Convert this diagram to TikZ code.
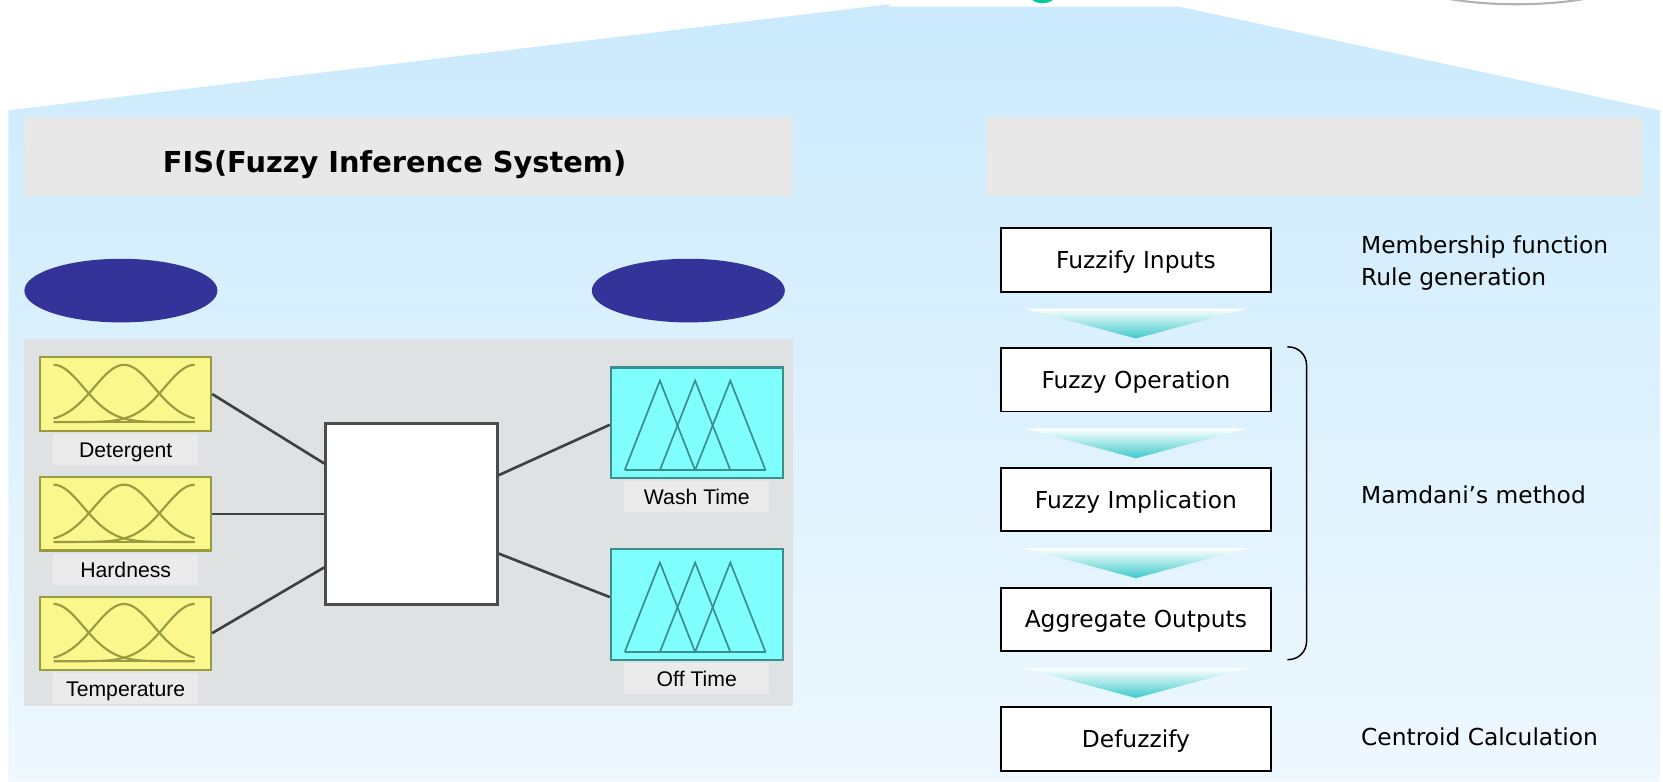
\documentclass[tikz,border=0pt]{standalone}
\usepackage{fontspec}
\setmainfont{DejaVu Sans}
\newfontfamily\lblfont{Liberation Sans}
\usetikzlibrary{positioning,shapes.geometric}
\definecolor{roofblue}{HTML}{CBEAFD}
\definecolor{roofpale}{HTML}{EEF8FE}
\definecolor{barfill}{HTML}{E8E8E8}
\definecolor{panelgray}{HTML}{DFE2E2}
\definecolor{navy}{HTML}{333399}
\definecolor{mfyellow}{HTML}{FAF78C}
\definecolor{mfolive}{HTML}{9A9A40}
\definecolor{mfcyan}{HTML}{80FFFF}
\definecolor{mfteal}{HTML}{3A8E8E}
\definecolor{lblgray}{HTML}{EBEBEB}
\definecolor{arrowteal}{HTML}{3CCACA}
\definecolor{dotgreen}{HTML}{00CC99}
\begin{document}
\begin{tikzpicture}[x=0.5pt,y=-0.5pt,line join=miter,font=\fontsize{11}{15}\selectfont]
	\tikzset{inbox/.style={draw=mfolive,fill=mfyellow,line width=1pt,minimum width=80.5pt,minimum height=34.5pt,inner sep=0pt},
		outbox/.style={draw=mfteal,fill=mfcyan,line width=1pt,minimum width=81pt,minimum height=52pt,inner sep=0pt},
		lblbox/.style={fill=lblgray,minimum width=68.5pt,minimum height=14.5pt,inner sep=0pt,
			text height=7.2pt,text depth=0pt,font=\lblfont\fontsize{10}{12}\selectfont},
		stepbox/.style={draw=black,fill=white,line width=0.9pt,minimum width=127pt,minimum height=30pt,
			inner sep=0pt,text height=8pt,text depth=0pt},
		wire/.style={draw=black!75,line width=1.25pt},
		navyblob/.style={ellipse,fill=navy,minimum width=91pt,minimum height=30pt,inner sep=0pt},
		note/.style={anchor=base west,inner sep=0pt}}
	\useasboundingbox (0,0) rectangle (1568,737);
	\clip (0,0) rectangle (1568,737);
	% roof and body
	\fill[dotgreen] (983,-4) ellipse [x radius=12, y radius=7];
	\draw[gray!60,line width=1pt] (1430,-20) ellipse [x radius=104, y radius=24];
	\shade[top color=roofblue,bottom color=roofpale] (8,737)--(8,104)--(838,4)--(838,6.3)--(1112,6.3)--(1565,104)--(1565,737)--cycle;
	\fill[barfill] (24,110) rectangle (748,185);
	\fill[barfill] (930,110) rectangle (1548,185);
	\node[anchor=base,font=\bfseries\fontsize{13.6}{16}\selectfont] (fistitle) at (372,163) {FIS(Fuzzy Inference System)};
	\node[navyblob] (inblob) at (114,274) {};
	\node[navyblob] (outblob) at (649,274) {};
	\fill[panelgray] (23,320) rectangle (748,666);
	% inputs
	\foreach \nm/\txt/\yy in {det/Detergent/371.5,hard/Hardness/484.5,temp/Temperature/597}{
			\node[inbox] (\nm) at (118.5,\yy) {};
			\node[lblbox,below=1pt of \nm] (\nm lbl) {\txt};
			\begin{scope}[shift={(\nm.south west)},xshift=6.75pt,yshift=4.5pt,x=66.5pt,y=27pt]
				\draw[mfolive,line width=1pt] (0,0)--(1,0);
				\foreach \c in {0,.5,1}
				\draw[mfolive,line width=1pt,smooth,samples=50,domain=0:1] plot (\x,{exp(0-((\x-\c)^2)/0.09)});
			\end{scope}}
	% outputs
	\foreach \nm/\txt/\yy in {wash/Wash Time/398.5,off/Off Time/570}{
			\node[outbox] (\nm) at (657,\yy) {};
			\node[lblbox,below=1pt of \nm] (\nm lbl) {\txt};
			\begin{scope}[shift={(\nm.south west)},xshift=7pt,yshift=4.1pt,x=66.4pt,y=42.2pt]
				\draw[mfteal,line width=0.8pt] (0,0)--(1,0);
				\foreach \a in {0,.25,.5}
				\draw[mfteal,line width=0.8pt] (\a,0)--(\a+.25,1)--(\a+.5,0);
			\end{scope}}
	\node[draw=black!70,fill=white,line width=1.3pt,minimum width=81pt,minimum height=85.5pt,inner sep=0pt] (rulebox) at (388,484.5) {};
	\draw[wire] (det.east)--([yshift=23.75pt]rulebox.west);
	\draw[wire] (hard.east)--(rulebox.west);
	\draw[wire] (temp.east)--([yshift=-25.25pt]rulebox.west);
	\draw[wire] ([yshift=18.25pt]rulebox.east)--([yshift=-1pt]wash.west);
	\draw[wire] ([yshift=-18.75pt]rulebox.east)--([yshift=3.5pt]off.west);
	% steps
	\foreach \nm/\txt/\yy in {fin/Fuzzify Inputs/245,fop/Fuzzy Operation/358,fim/Fuzzy Implication/471,
			agg/Aggregate Outputs/584,dfz/Defuzzify/697}
	\node[stepbox] (\nm) at (1071,\yy) {\txt};
	\foreach \a/\b in {fin/fop,fop/fim,fim/agg,agg/dfz}
	\shade[top color=white,bottom color=arrowteal] ([xshift=-52.75pt,yshift=-7.5pt]\a.south)
	--([xshift=52.75pt,yshift=-7.5pt]\a.south)--([yshift=4pt]\b.north)--cycle;
	\draw[line width=0.7pt,rounded corners=8.5pt] ([xshift=7.5pt]fop.north east)--([xshift=16.5pt]fop.north east)
	--([xshift=16.5pt,yshift=-3.5pt]agg.south east)--([xshift=7.5pt,yshift=-3.5pt]agg.south east);
	\node[note] (mfnote) at (1283,239) {Membership function};
	\node[note] (rgnote) at (1283,269) {Rule generation};
	\node[note] (mmnote) at (1283,475) {Mamdani’s method};
	\node[note] (cnnote) at (1283,703) {Centroid Calculation};
\end{tikzpicture}
\end{document}
